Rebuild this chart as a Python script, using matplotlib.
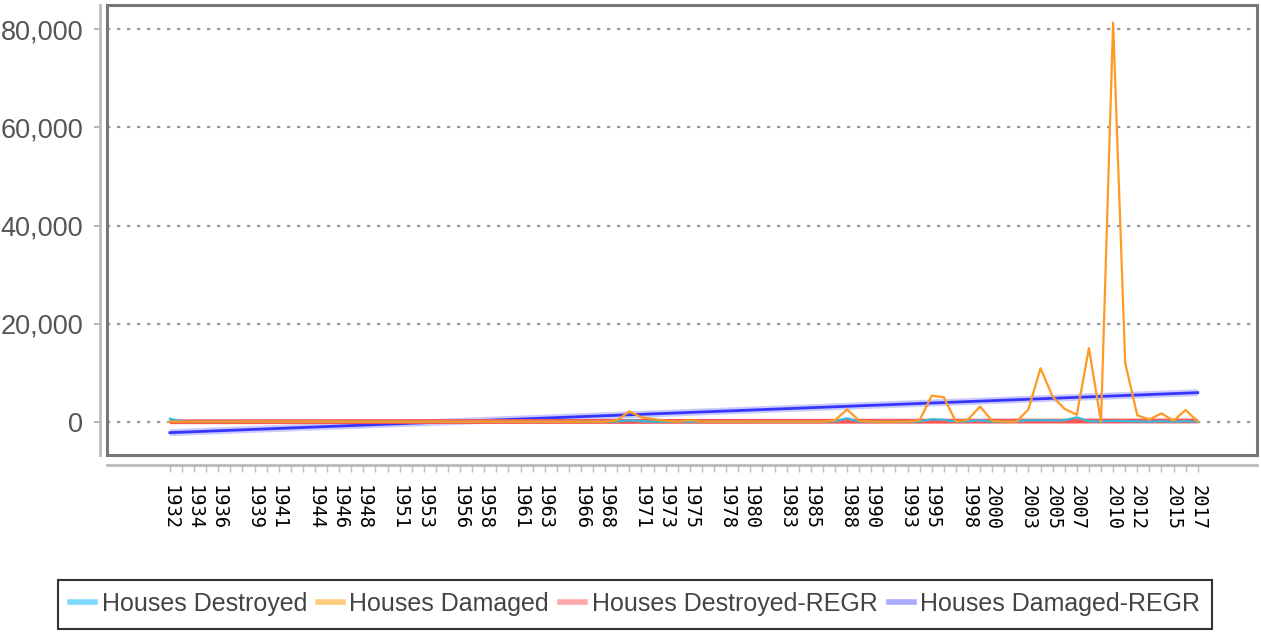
import numpy as np
import matplotlib
matplotlib.use("Agg")
import matplotlib.pyplot as plt
from matplotlib.patches import Rectangle
from matplotlib.ticker import FuncFormatter

# categories: one per year
years = list(range(1932, 2018))
labeled_years = [1932, 1934, 1936, 1939, 1941, 1944, 1946, 1948, 1951, 1953, 1956, 1958,
                 1961, 1963, 1966, 1968, 1971, 1973, 1975, 1978, 1980, 1983, 1985, 1988,
                 1990, 1993, 1995, 1998, 2000, 2003, 2005, 2007, 2010, 2012, 2015, 2017]

houses_destroyed = [600, 50, 0, 0, 0, 0, 0, 0, 0, 0,
                    0, 0, 0, 0, 0, 0, 0, 0, 0, 0,
                    0, 0, 0, 0, 0, 0, 0, 0, 0, 0,
                    0, 0, 0, 0, 0, 0, 0, 50, 300, 100,
                    0, 0, 0, 0, 0, 0, 0, 0, 0, 0,
                    0, 0, 0, 0, 0, 100, 700, 50, 0, 0,
                    0, 0, 50, 500, 400, 0, 100, 300, 0, 0,
                    0, 300, 300, 250, 300, 900, 100, 0, 200, 100,
                    50, 0, 100, 0, 100, 0]

houses_damaged = [0, 0, 0, 0, 0, 0, 0, 0, 0, 0,
                  0, 0, 0, 0, 0, 0, 0, 0, 0, 0,
                  0, 0, 0, 0, 0, 0, 0, 0, 0, 0,
                  0, 0, 0, 0, 0, 0, 0, 300, 2100, 900,
                  500, 200, 0, 350, 0, 0, 0, 0, 0, 0,
                  0, 0, 0, 0, 0, 300, 2500, 200, 0, 0,
                  0, 0, 300, 5300, 5000, 0, 450, 3100, 150, 0,
                  0, 2500, 10900, 5100, 2600, 1400, 15000, 0, 81400, 12000,
                  1300, 450, 1700, 200, 2400, 0]

x = np.arange(len(years))

# linear regression lines
reg_destroyed = np.polyval(np.polyfit(x, houses_destroyed, 1), x)
reg_damaged = np.polyval(np.polyfit(x, houses_damaged, 1), x)

W, H = 1261, 639
fig = plt.figure(figsize=(W / 100, H / 100), dpi=100)
ax = fig.add_axes([107 / W, 1 - 455 / H, 1150 / W, 450 / H])

sans = ['Liberation Sans', 'DejaVu Sans']

# grid
ax.set_axisbelow(True)
ax.yaxis.grid(True, color='#999999', linestyle=(0, (1.5, 3)), linewidth=1.6)

ax.plot(x, reg_damaged, color='#5050ff', lw=5, alpha=0.3, solid_capstyle='butt')
ax.plot(x, reg_damaged, color='#3535ff', lw=2)
ax.plot(x, reg_destroyed, color='#ff5555', lw=3.5, solid_capstyle='butt')
ax.plot(x, houses_destroyed, color='#33bbdd', lw=1.6)
ax.plot(x, houses_damaged, color='#ff9922', lw=1.6)

ax.set_xlim(-5.2, 89.9)
ax.set_ylim(-6790, 84960)

# box around the plot area
ax.add_patch(Rectangle((0, 0), 1, 1, transform=ax.transAxes, fill=False,
                       edgecolor='#777777', lw=2.2, clip_on=False, zorder=5))

for s in ['top', 'right']:
    ax.spines[s].set_visible(False)
ax.spines['left'].set_position(('outward', 5))
ax.spines['bottom'].set_position(('outward', 7.5))
for s in ['left', 'bottom']:
    ax.spines[s].set_color('#bbbbbb')
    ax.spines[s].set_linewidth(2)

ax.set_yticks([0, 20000, 40000, 60000, 80000])
ax.yaxis.set_major_formatter(FuncFormatter(lambda v, p: f'{int(v):,}'))
ax.tick_params(axis='y', length=4, width=1.2, color='#aaaaaa', pad=8,
               labelsize=19.5, labelcolor='#555555')
for t in ax.get_yticklabels():
    t.set_family(sans)

ax.set_xticks(x)
ax.set_xticklabels([str(y) if y in labeled_years else '' for y in years],
                   rotation=270, family='DejaVu Sans Mono', fontsize=13.5, color='#000000')
ax.tick_params(axis='x', length=5, width=1, color='#bbbbbb', pad=9)

handles = [plt.Line2D([], [], color=c, lw=4) for c in
           ['#80d8ff', '#ffcc80', '#ffaaaa', '#aaaaff']]
leg = fig.legend(handles, ['Houses Destroyed', 'Houses Damaged', 'Houses Destroyed-REGR',
                           'Houses Damaged-REGR'],
                 loc='center', bbox_to_anchor=(635 / W, 1 - 604 / H), ncol=4,
                 frameon=True, fancybox=False, handlelength=1.0, handletextpad=0.25,
                 columnspacing=0.45, borderpad=0.5,
                 prop={'family': sans, 'size': 18})
leg.get_frame().set_edgecolor('#000000')
leg.get_frame().set_linewidth(1.5)
for t in leg.get_texts():
    t.set_color('#444444')

fig.savefig('out.png', dpi=100)
